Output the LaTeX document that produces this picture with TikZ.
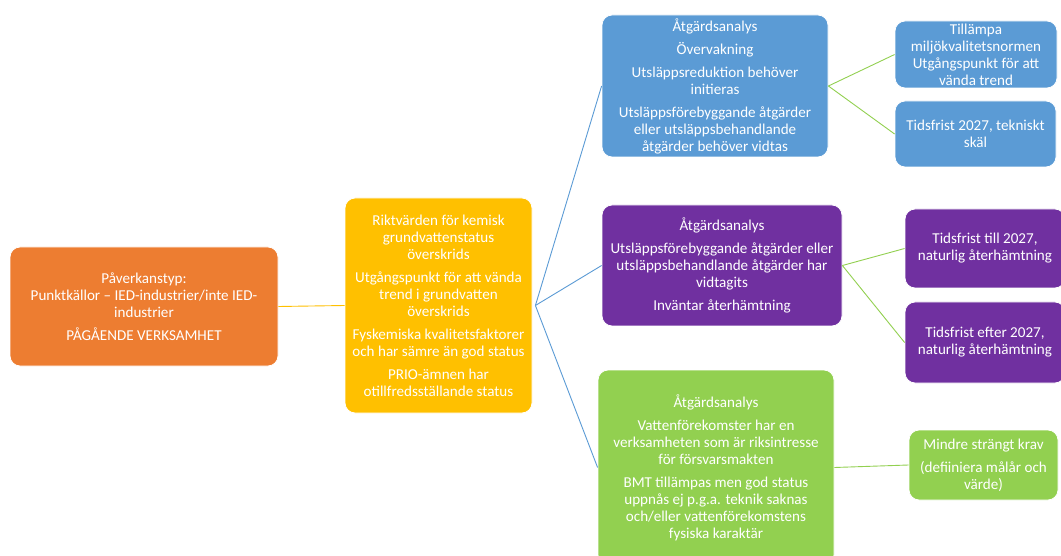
\documentclass[tikz,border=0pt]{standalone}
\usepackage{fontspec}
\setmainfont{Carlito}
\definecolor{corange}{HTML}{ED7D31}
\definecolor{cyellow}{HTML}{FFC000}
\definecolor{cblue}{HTML}{5B9BD5}
\definecolor{cpurple}{HTML}{7030A0}
\definecolor{cgreen}{HTML}{92D050}
\tikzset{
  box/.style={rounded corners=10pt, draw=white, line width=0.8pt, text=white, align=center,
    inner sep=0pt, font=\fontsize{15.1}{17}\selectfont},
  link/.style={line width=0.9pt},
}
\begin{document}
\begin{tikzpicture}[x=1pt,y=-1pt]
\clip (0,0) rectangle (1061,556);
\fill[white] (0,0) rectangle (1061,556);
\node[box, fill=corange, minimum width=268pt, minimum height=119pt] (src) at (144,306.5)
  {Påverkanstyp:\\Punktkällor -- IED-industrier/inte IED-\\industrier\\[6pt]PÅGÅENDE VERKSAMHET};
\node[box, fill=cyellow, minimum width=187pt, minimum height=215pt] (cond) at (438.5,305.5)
  {Riktvärden för kemisk\\grundvattenstatus\\överskrids\\[6pt]Utgångspunkt för att vända\\trend i grundvatten\\överskrids\\[6pt]Fyskemiska kvalitetsfaktorer\\och har sämre än god status\\[6pt]PRIO-ämnen har\\otillfredsställande status};
\node[box, fill=cblue, minimum width=226pt, minimum height=142pt] (b1) at (715,86)
  {Åtgärdsanalys\\[6pt]Övervakning\\[6pt]Utsläppsreduktion behöver\\initieras\\[6pt]Utsläppsförebyggande åtgärder\\eller utsläppsbehandlande\\åtgärder behöver vidtas};
\node[box, fill=cblue, minimum width=162pt, minimum height=67pt] (b2a) at (976,54.5)
  {Tillämpa\\miljökvalitetsnormen\\Utgångspunkt för att\\vända trend};
\node[box, fill=cblue, minimum width=161pt, minimum height=66pt] (b2b) at (975.5,134)
  {Tidsfrist 2027, tekniskt\\skäl};
\node[box, fill=cpurple, minimum width=240pt, minimum height=121pt] (p1) at (722,265.5)
  {Åtgärdsanalys\\[6pt]Utsläppsförebyggande åtgärder eller\\utsläppsbehandlande åtgärder har\\vidtagits\\[6pt]Inväntar återhämtning};
\node[box, fill=cpurple, minimum width=160pt, minimum height=79pt] (p2a) at (985,248.5)
  {Tidsfrist till 2027,\\naturlig återhämtning};
\node[box, fill=cpurple, minimum width=160pt, minimum height=81pt] (p2b) at (985,342.5)
  {Tidsfrist efter 2027,\\naturlig återhämtning};
\node[box, fill=cgreen, minimum width=236pt, minimum height=195pt] (g1) at (716,467.5)
  {Åtgärdsanalys\\[6pt]Vattenförekomster har en\\verksamheten som är riksintresse\\för försvarsmakten\\[6pt]BMT tillämpas men god status\\uppnås ej p.g.a. teknik saknas\\och/eller vattenförekomstens\\fysiska karaktär};
\node[box, fill=cgreen, minimum width=149pt, minimum height=70pt] (g2) at (983.5,465)
  {Mindre strängt krav\\[6pt](defiiniera målår och\\värde)};
\draw[link, cyellow] (src.east) -- (cond.west);
\coordinate (fan) at ([xshift=3pt]cond.east);
\draw[link, cblue] (fan) -- (b1.west);
\draw[link, cblue] (fan) -- (p1.west);
\draw[link, cblue] (fan) -- (g1.west);
\draw[link, cgreen] (b1.east) -- (b2a.west);
\draw[link, cgreen] (b1.east) -- (b2b.west);
\draw[link, cgreen] (p1.east) -- (p2a.west);
\draw[link, cgreen] (p1.east) -- (p2b.west);
\draw[link, cgreen] (g1.east) -- (g2.west);
\end{tikzpicture}
\end{document}
